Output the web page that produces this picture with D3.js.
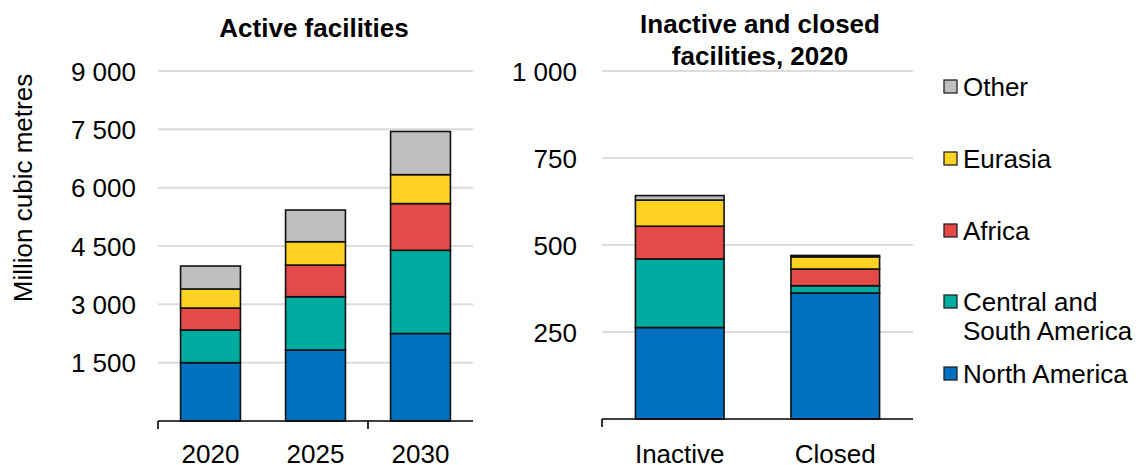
<!DOCTYPE html>
<html><head><meta charset="utf-8">
<script src="https://cdn.jsdelivr.net/npm/d3@7"></script>
<style>body{margin:0;background:#fff}svg{display:block;font-family:"Liberation Sans",Arial,sans-serif}</style>
</head><body><svg id="c" width="1139" height="465"></svg>
<script>
const seriesNames = ["North America","Central and South America","Africa","Eurasia","Other"];
const seriesColors = ["#0070C0","#00AC9F","#E34A48","#FFD324","#BFBFBF"];
const activeCats = ["2020","2025","2030"];
const activeNA = [1500,1825,2250];
const activeCSA = [840,1370,2140];
const activeAfrica = [565,815,1200];
const activeEurasia = [490,600,745];
const activeOther = [590,815,1110];
const activeTicks = [1500,3000,4500,6000,7500,9000];
const inCats = ["Inactive","Closed"];
const inNA = [263,362];
const inCSA = [197,21];
const inAfrica = [94,48];
const inEurasia = [75,35];
const inOther = [13,4];
const inTicks = [250,500,750,1000];

const FS = 26;
const svg = d3.select("#c");
const fmt = v => d3.format(",")(v).replace(/,/g," ");

function panel(cats, seriesVals, ticks, yMax, x0, x1, y0, y1, labelRight, tickBoundaries){
  const rows = cats.map((c,i)=>{const o={cat:c}; seriesNames.forEach((s,j)=>o[s]=seriesVals[j][i]); return o;});
  const stack = d3.stack().keys(seriesNames)(rows);
  const x = d3.scaleBand().domain(cats).range([x0,x1]).paddingInner(0.43).paddingOuter(0.215);
  const y = d3.scaleLinear().domain([0,yMax]).range([y0,y1]);
  const g = svg.append("g");
  g.selectAll(".grid").data(ticks).join("line")
    .attr("x1",x0).attr("x2",x1).attr("y1",d=>y(d)).attr("y2",d=>y(d))
    .attr("stroke","#DCDCDC").attr("stroke-width",2);
  const yAxis = d3.axisLeft(y).tickValues(ticks).tickSize(0).tickPadding(0).tickFormat(fmt);
  const ya = g.append("g").attr("transform",`translate(${labelRight},0)`).call(yAxis);
  ya.attr("font-size",null).attr("font-family",null);
  ya.select(".domain").remove();
  ya.selectAll("text").attr("font-size",FS).attr("fill","#000").attr("dy","0.35em");
  stack.forEach((layer,j)=>{
    g.selectAll(null).data(layer).join("rect")
      .attr("x",d=>x(d.data.cat)).attr("width",x.bandwidth())
      .attr("y",d=>y(d[1])).attr("height",d=>y(d[0])-y(d[1]))
      .attr("fill",seriesColors[j]).attr("stroke","#111").attr("stroke-width",1.6);
  });
  g.append("line").attr("x1",x0).attr("x2",x1).attr("y1",y0).attr("y2",y0).attr("stroke","#000").attr("stroke-width",1.6);
  const step = (x1-x0)/cats.length;
  g.selectAll(".tk").data(tickBoundaries).join("line")
    .attr("x1",d=>x0+d*step).attr("x2",d=>x0+d*step).attr("y1",y0).attr("y2",y0+8)
    .attr("stroke","#000").attr("stroke-width",1.6);
  g.selectAll(".xl").data(cats).join("text")
    .attr("x",d=>x(d)+x.bandwidth()/2).attr("y",463).attr("text-anchor","middle")
    .attr("font-size",FS).text(d=>d);
}

panel(activeCats,[activeNA,activeCSA,activeAfrica,activeEurasia,activeOther],activeTicks,9000,158,473,421,71,136,[0,2]);
panel(inCats,[inNA,inCSA,inAfrica,inEurasia,inOther],inTicks,1000,602,913,419,71,577,[0]);

svg.append("text").attr("x",314).attr("y",37).attr("text-anchor","middle").attr("font-size",FS).attr("font-weight","bold").text("Active facilities");
svg.append("text").attr("x",760).attr("y",33).attr("text-anchor","middle").attr("font-size",FS).attr("font-weight","bold").text("Inactive and closed");
svg.append("text").attr("x",760).attr("y",65).attr("text-anchor","middle").attr("font-size",FS).attr("font-weight","bold").text("facilities, 2020");
svg.append("text").attr("transform","translate(32,188) rotate(-90)").attr("text-anchor","middle").attr("font-size",FS).text("Million cubic metres");

const legendItems = [
  {i:4, y:[87]},
  {i:3, y:[159]},
  {i:2, y:[231]},
  {i:1, y:[302,331], lines:["Central and","South America"]},
  {i:0, y:[374]}
];
legendItems.forEach(it=>{
  svg.append("rect").attr("x",944).attr("y",it.y[0]-7).attr("width",13).attr("height",13)
    .attr("fill",seriesColors[it.i]).attr("stroke","#222").attr("stroke-width",1.3);
  const lines = it.lines || [seriesNames[it.i]];
  lines.forEach((t,k)=>svg.append("text").attr("x",963).attr("y",it.y[k]).attr("dy","0.35em").attr("font-size",FS).text(t));
});
</script></body></html>
